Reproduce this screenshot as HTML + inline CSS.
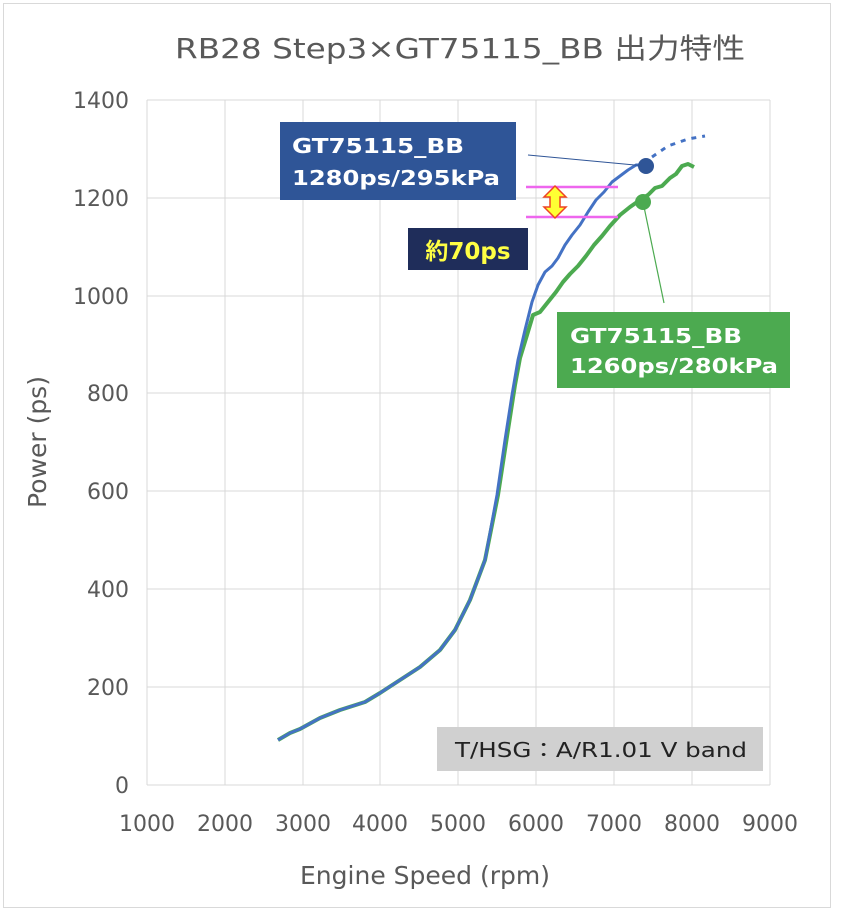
<!DOCTYPE html>
<html><head><meta charset="utf-8"><style>
body{margin:0;background:#fff}
svg{display:block;font-family:"DejaVu Sans","Noto Sans CJK JP",sans-serif}
</style></head><body>
<svg width="842" height="914" viewBox="0 0 842 914">
<rect x="3.5" y="3.5" width="827" height="904" fill="#fff" stroke="#d9d9d9"/>
<text x="175" y="58" font-size="28" fill="#595959" textLength="570" lengthAdjust="spacingAndGlyphs">RB28 Step3×GT75115_BB 出力特性</text>
<g stroke="#d9d9d9" stroke-width="1">
<line x1="147" y1="100" x2="770" y2="100"/><line x1="147" y1="198" x2="770" y2="198"/>
<line x1="147" y1="296" x2="770" y2="296"/><line x1="147" y1="393" x2="770" y2="393"/>
<line x1="147" y1="491" x2="770" y2="491"/><line x1="147" y1="589" x2="770" y2="589"/>
<line x1="147" y1="687" x2="770" y2="687"/><line x1="147" y1="785" x2="770" y2="785"/>
<line x1="147" y1="100" x2="147" y2="785"/><line x1="225" y1="100" x2="225" y2="785"/>
<line x1="303" y1="100" x2="303" y2="785"/><line x1="380" y1="100" x2="380" y2="785"/>
<line x1="458" y1="100" x2="458" y2="785"/><line x1="536" y1="100" x2="536" y2="785"/>
<line x1="614" y1="100" x2="614" y2="785"/><line x1="692" y1="100" x2="692" y2="785"/>
<line x1="770" y1="100" x2="770" y2="785"/>
</g>
<g font-size="22" fill="#595959" text-anchor="end">
<text x="129" y="108">1400</text><text x="129" y="206">1200</text><text x="129" y="304">1000</text>
<text x="129" y="401">800</text><text x="129" y="499">600</text><text x="129" y="597">400</text>
<text x="129" y="695">200</text><text x="129" y="793">0</text>
</g>
<g font-size="22" fill="#595959" text-anchor="middle">
<text x="147" y="831">1000</text><text x="225" y="831">2000</text><text x="303" y="831">3000</text>
<text x="380" y="831">4000</text><text x="458" y="831">5000</text><text x="536" y="831">6000</text>
<text x="614" y="831">7000</text><text x="692" y="831">8000</text><text x="770" y="831">9000</text>
</g>
<text x="425" y="884" font-size="25" fill="#595959" text-anchor="middle">Engine Speed (rpm)</text>
<text transform="translate(46,442) rotate(-90)" font-size="25" fill="#595959" text-anchor="middle">Power (ps)</text>
<polyline fill="none" stroke="#4caa50" stroke-width="4" stroke-linejoin="round" points="278,740 290,733 300,729 320,718 340,710 365,702 380,693 400,680 420,667 440,650 455,630 470,600 485,560 498,495 508,430 515,385 520,358 527,335 533,315 540,312 548,302 556,292 563,282 570,274 578,266 586,256 594,245 602,236 610,226 620,215 630,207 640,200 648,195 655,188 662,186 670,178 676,174 682,166 688,164 694,167"/>
<polyline fill="none" stroke="#4472c4" stroke-width="3" stroke-linejoin="round" points="278,740 290,733 300,729 320,718 340,710 365,702 380,693 400,680 420,667 440,650 455,630 470,600 485,560 497,495 505,440 512,395 518,360 525,330 532,302 538,285 545,272 552,266 558,258 565,245 572,235 580,225 588,212 596,200 604,192 612,182 620,176 628,170 636,165 645,165"/>
<polyline fill="none" stroke="#4472c4" stroke-width="3" stroke-dasharray="5,6" points="652,157 668,146 688,139 705,136"/>
<line x1="528" y1="155" x2="646" y2="166" stroke="#2f5597" stroke-width="1"/>
<line x1="643" y1="202" x2="664" y2="303" stroke="#4caa50" stroke-width="1.2"/>
<circle cx="646" cy="166" r="8" fill="#2f5597"/>
<circle cx="643" cy="202" r="8" fill="#4caa50"/>
<line x1="526" y1="187" x2="618" y2="187" stroke="#ee66ee" stroke-width="2.5"/>
<line x1="526" y1="217" x2="618" y2="217" stroke="#ee66ee" stroke-width="2.5"/>
<polygon points="555,186 566,197 560,197 560,207 566,207 555,218 544,207 550,207 550,197 544,197" fill="#ffff33" stroke="#ee4422" stroke-width="1.5"/>
<rect x="280" y="122" width="236" height="78" fill="#2f5597"/>
<text x="292" y="153" font-size="20" font-weight="bold" fill="#fff" textLength="172" lengthAdjust="spacingAndGlyphs">GT75115_BB</text>
<text x="292" y="185" font-size="20" font-weight="bold" fill="#fff" textLength="208" lengthAdjust="spacingAndGlyphs">1280ps/295kPa</text>
<rect x="408" y="228" width="120" height="42" fill="#1f2d5a"/>
<text x="468" y="259" font-size="23" font-weight="bold" fill="#ffff44" text-anchor="middle">約70ps</text>
<rect x="557" y="312" width="233" height="76" fill="#4caa50"/>
<text x="570" y="343" font-size="20" font-weight="bold" fill="#fff" textLength="172" lengthAdjust="spacingAndGlyphs">GT75115_BB</text>
<text x="570" y="373" font-size="20" font-weight="bold" fill="#fff" textLength="208" lengthAdjust="spacingAndGlyphs">1260ps/280kPa</text>
<rect x="437" y="727" width="326" height="44" fill="#d0d0d0"/>
<text x="455" y="757" font-size="20" fill="#222" textLength="292" lengthAdjust="spacingAndGlyphs">T/HSG：A/R1.01 V band</text>
</svg>
</body></html>
